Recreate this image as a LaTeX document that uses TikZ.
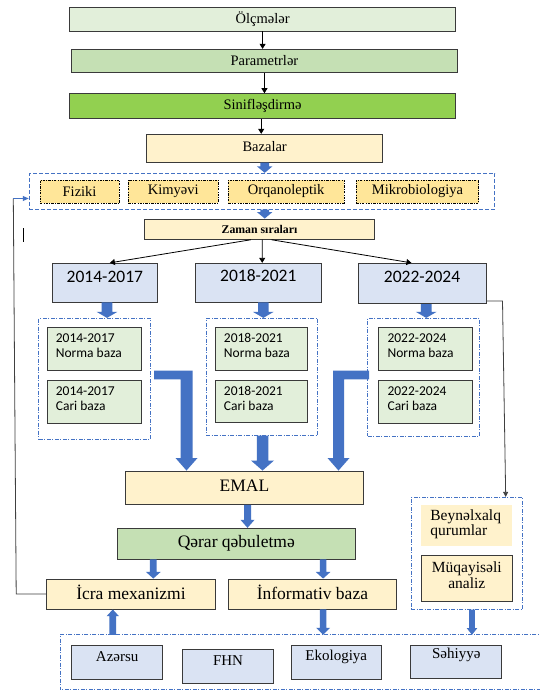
\documentclass[tikz,border=0pt]{standalone}
\usepackage{fontspec}
\setmainfont{Liberation Serif}
\newfontfamily\carl{Carlito}
\usetikzlibrary{fit,calc,arrows.meta}
\definecolor{ablue}{HTML}{4472C4}
\definecolor{lgreen}{HTML}{E2EFDA}
\definecolor{mgreen}{HTML}{C5E0B4}
\definecolor{sgreen}{HTML}{92D050}
\definecolor{lyellow}{HTML}{FFF2CC}
\definecolor{myellow}{HTML}{FFE699}
\definecolor{lblue}{HTML}{DAE3F3}
\definecolor{edge}{HTML}{3A3A3A}
\newcommand\fsz[2]{\fontsize{#1}{#2}\selectfont}
% vertical block arrow: from, to, shaft width, head width, head length
\newcommand\barrow[5]{%
  \fill[ablue] let \p1=#1, \p2=#2, \n1={ifthenelse(\y2<\y1,1,-1)} in
  (\x1-#3/2,\y1) -- (\x1-#3/2,\y2+\n1*#5) -- (\x1-#4/2,\y2+\n1*#5) -- (\x1,\y2)
  -- (\x1+#4/2,\y2+\n1*#5) -- (\x1+#3/2,\y2+\n1*#5) -- (\x1+#3/2,\y1) -- cycle;}
\tikzset{
  box/.style={draw=edge, line width=0.9pt, inner sep=0pt},
  la/.style={font=\fsz{14.5}{17}, inner sep=0pt},
  lb/.style={font=\fsz{17.5}{20}, inner sep=0pt},
  dbox/.style={draw=ablue, line width=0.8pt, dash pattern=on 4pt off 1.5pt on 1pt off 1.5pt, inner sep=0pt},
  catbox/.style={fill=myellow, draw=black, line width=0.8pt, dash pattern=on 2.5pt off 1.2pt on 0.8pt off 1.2pt, inner sep=0pt},
  tarrow/.style={draw=black, line width=0.8pt, -{Triangle[length=5pt,width=6pt]}},
  conn/.style={draw=black!75, line width=0.8pt},
  yearlbl/.style={font=\carl\fsz{17.5}{20}, inner sep=0pt},
  smlbl/.style={anchor=west, xshift=9pt, yshift=3pt, align=left, font=\carl\fsz{13.5}{15.6}, inner sep=0pt},
  botlbl/.style={yshift=5.5pt, font=\fsz{15}{17}, inner sep=0pt}
}
\begin{document}
\begin{tikzpicture}[x=1pt,y=-1pt]
\useasboundingbox (0,0) rectangle (539,692);
\fill[white] (0,0) rectangle (539,692);

% top chain
\node[box, fill=lgreen, fit={(69.8,7.7)(455.4,31)}, label={[la]center:Ölçmələr}] (olc) {};
\node[box, fill=mgreen, fit={(71.8,49.3)(457.1,72.3)}, label={[la]center:Parametrlər}] (par) {};
\node[box, fill=sgreen, fit={(69.8,93.7)(455.4,118.3)}, label={[la]center:Sinifləşdirmə}] (sin) {};
\node[box, fill=lyellow, fit={(146.4,134.3)(382.9,162.3)}, label={[la, yshift=1.5pt]center:Bazalar}] (baz) {};

\draw[tarrow] (olc.south) -- (olc.south |- par.north);
\draw[tarrow] (par.south) -- (par.south |- sin.north);
\draw[tarrow] (261.2,0 |- sin.south) -- (261.2,0 |- baz.north);

% categories
\node[draw=ablue, line width=0.9pt, dash pattern=on 4pt off 2pt, inner sep=0pt, fit={(29.2,173.3)(494.9,209.3)}] (cats) {};
\node[catbox, fit={(39.9,180)(119.3,203)}, label={[la]center:Fiziki}] (fiz) {};
\node[catbox, fit={(128.2,180)(218.2,203)}, label={[la]center:Kimyəvi}] (kim) {};
\node[catbox, fit={(228.2,180)(344.0,203)}, label={[la]center:Orqanoleptik}] (org) {};
\node[catbox, fit={(356.1,180)(478.8,203)}, label={[la]center:Mikrobiologiya}] (mik) {};

\node[box, fill=lyellow, fit={(144.4,219)(374.6,239.3)}, label={[font=\bfseries\fsz{11.8}{14}, inner sep=0pt]center:Zaman sıraları}] (zam) {};

\barrow{(264.7,0 |- baz.south)}{(264.7,0 |- cats.north)}{8.6}{15.5}{6.5}
\barrow{(264.7,0 |- cats.south)}{(264.7,0 |- zam.north)}{8.6}{15.5}{6.5}

% years
\node[box, fill=lblue, fit={(52.6,263.3)(157.1,302)}, label={[yearlbl, yshift=5.5pt]center:2014-2017}] (y1) {};
\node[box, fill=lblue, fit={(195.2,263.3)(321.4,302)}, label={[yearlbl, yshift=7.5pt]center:2018-2021}] (y2) {};
\node[box, fill=lblue, fit={(358.1,263.3)(486.0,303.7)}, label={[yearlbl, yshift=6.5pt]center:2022-2024}] (y3) {};

\draw[tarrow] ($(zam.south)+(-8.6,0)$) -- ($(y1.north)+(5,0)$);
\draw[tarrow] ($(zam.south)+(2.7,0)$) -- ($(y2.north)+(3.9,0)$);
\draw[tarrow] ($(zam.south)+(12,0)$) -- ($(y3.north)+(-10.6,0)$);

% groups
\node[dbox, fit={(38.8,318.3)(150.2,439.3)}] (g1) {};
\node[dbox, fit={(206.2,318.3)(317.6,435.3)}] (g2) {};
\node[dbox, fit={(367.8,318.3)(479.5,436)}] (g3) {};

\node[box, fill=lgreen, fit={(47.1,327)(141.3,370.3)}, label={[smlbl]west:2014-2017\\Norma baza}] (n1) {};
\node[box, fill=lgreen, fit={(47.1,380)(141.3,423)}, label={[smlbl]west:2014-2017\\Cari baza}] (c1) {};
\node[box, fill=lgreen, fit={(215.2,327)(307.6,370)}, label={[smlbl]west:2018-2021\\Norma baza}] (n2) {};
\node[box, fill=lgreen, fit={(215.2,380)(307.6,422.7)}, label={[smlbl]west:2018-2021\\Cari baza}] (c2) {};
\node[box, fill=lgreen, fit={(378.8,327)(472.2,370)}, label={[smlbl]west:2022-2024\\Norma baza}] (n3) {};
\node[box, fill=lgreen, fit={(378.8,380)(472.2,423)}, label={[smlbl]west:2022-2024\\Cari baza}] (c3) {};

\barrow{(107,0 |- y1.south)}{(107,0 |- g1.north)}{10.6}{20.6}{6}
\barrow{(263.3,0 |- y2.south)}{(263.3,0 |- g2.north)}{10.6}{20.6}{6}
\barrow{(426.2,0 |- y3.south)}{(426.2,0 |- g3.north)}{10.6}{20.6}{6}

% EMAL etc.
\node[box, fill=lyellow, fit={(125.5,471)(363.3,504.3)}, label={[lb, yshift=1.5pt]center:EMAL}] (emal) {};
\node[box, fill=mgreen, fit={(117.2,528.3)(355.4,559)}, label={[lb]center:Qərar qəbuletmə}] (qer) {};
\node[box, fill=lyellow, fit={(46.7,579)(215.2,609)}, label={[lb, yshift=1.5pt]center:İcra mexanizmi}] (icra) {};
\node[box, fill=lyellow, fit={(228.2,579)(396.6,609)}, label={[lb, yshift=1.5pt]center:İnformativ baza}] (inf) {};

% L-shaped and middle block arrows into EMAL
\coordinate (l1) at ($(g1.east)+(3.4,0)$);
\fill[ablue] (l1 |- 0,370.7) -- (192.5,370.7) -- (192.5,458) -- (197.5,458) -- (186.5,0 |- emal.north)
  -- (175.5,458) -- (180.5,458) -- (180.5,379.3) -- (l1 |- 0,379.3) -- cycle;
\coordinate (l3) at ($(g3.west)+(1.7,0)$);
\fill[ablue] (l3 |- 0,370.7) -- (333,370.7) -- (333,458) -- (327.5,458) -- (338.5,0 |- emal.north)
  -- (349.5,458) -- (344,458) -- (344,379.3) -- (l3 |- 0,379.3) -- cycle;
\barrow{(262.5,0 |- g2.south)}{(262.5,0 |- emal.north)}{11.5}{23}{10}

\barrow{(247.5,0 |- emal.south)}{(247.5,0 |- qer.north)}{7}{14}{8}
\barrow{(153.3,0 |- qer.south)}{(153.3,0 |- icra.north)}{6.7}{14.7}{6.6}
\barrow{(323.1,0 |- qer.south)}{(323.1,0 |- inf.north)}{6.7}{14.7}{6.6}

% right group
\node[dbox, fit={(411.4,497.3)(522.6,609.3)}] (rb) {};
\node[fill=lyellow, inner sep=0pt, fit={(421.4,505)(512.1,545.7)},
  label={[anchor=west, xshift=9pt, yshift=1.5pt, align=left, font=\fsz{15.5}{14}, inner sep=0pt]west:Beynəlxalq\\qurumlar}] (bey) {};
\node[box, fill=lyellow, fit={(421.4,555)(512.1,601.3)},
  label={[yshift=3pt, text width=88pt, align=center, font=\fsz{15.5}{16.5}, inner sep=0pt]center:Müqayisəli\\analiz}] (muq) {};

% connectors
\draw[conn, -{Triangle[length=5pt,width=5pt]}] (y3.east |- 0,301) -- (502.5,301) -- (505.7,0 |- rb.north);
\draw[conn] (icra.west) -- (16.2,594) -- (13.3,198.5);
\draw[draw=ablue, line width=0.9pt, -{Triangle[length=6pt,width=5pt]}] (13.3,198.5) -- (cats.west |- 0,198.5);
\draw[line width=1.2pt] (23.4,228.3) -- (23.4,242.5);

% bottom group
\node[inner sep=0pt, fit={(60.1,635)(560,689.3)}] (botc) {};
\draw[dbox] (botc.north east) -- (botc.north west) -- (botc.south west) -- (botc.south east);
\node[box, fill=lblue, fit={(71.5,645)(162.9,679)}, label={[botlbl]center:Azərsu}] (az) {};
\node[box, fill=lblue, fit={(182.2,649.3)(273.9,683.3)}, label={[botlbl]center:FHN}] (fhn) {};
\node[box, fill=lblue, fit={(291.1,645.3)(381.5,679)}, label={[botlbl]center:Ekologiya}] (eko) {};
\node[box, fill=lblue, fit={(410.7,645)(501.8,678.7)}, label={[botlbl, yshift=1pt]center:Səhiyyə}] (seh) {};

\barrow{(112.8,0 |- botc.north)}{(112.8,0 |- icra.south)}{6.7}{12.3}{6.7}
\barrow{(323.1,0 |- inf.south)}{(323.1,0 |- botc.north)}{6.7}{14}{7}
\barrow{(472,0 |- rb.south)}{(472,0 |- botc.north)}{5.7}{10.6}{6.7}
\end{tikzpicture}
\end{document}
